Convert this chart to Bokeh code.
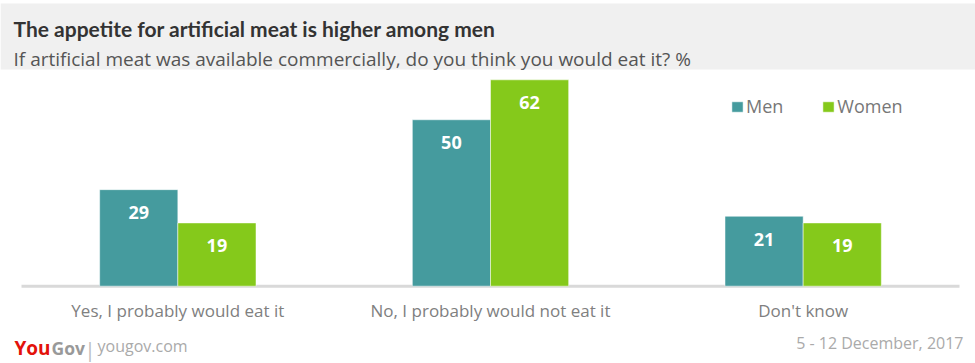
from bokeh.plotting import figure
from bokeh.models import (ColumnDataSource, Range1d, Label, BoxAnnotation,
                          Legend, LegendItem, LabelSet, FixedTicker)
from bokeh.layouts import column
from bokeh.embed import file_html
from bokeh.resources import INLINE
from bokeh.core.properties import value

# ---- data ----
categories = ["Yes, I probably would eat it", "No, I probably would not eat it", "Don't know"]
men = [29, 50, 21]
women = [19, 62, 19]
series_names = ["Men", "Women"]

title_text = "The appetite for artificial meat is higher among men"
subtitle_text = "If artificial meat was available commercially, do you think you would eat it? %"
date_text = "5 - 12 December, 2017"

MEN_COLOR = "#459b9e"
WOMEN_COLOR = "#85c91b"
FONT = "Open Sans"
W = 975
BAR_W = 0.25


def blank(height, y0, y1):
    f = figure(width=W, height=height, x_range=Range1d(0, W), y_range=Range1d(y0, y1),
               x_axis_type=None, y_axis_type=None, output_backend="svg",
               toolbar_location=None, min_border=0)
    f.outline_line_color = None
    f.background_fill_color = "white"
    f.border_fill_color = "white"
    return f


def lab(f, text, x, y, size, color, style="normal", align="left", font=FONT):
    f.add_layout(Label(x=x, y=y, text=text, text_font=font, text_font_size=size,
                       text_color=color, text_font_style=style, text_align=align,
                       text_baseline="alphabetic"))


# ---- header ----
head = blank(72, 72, 0)
head.add_layout(BoxAnnotation(left=0, right=W, top=3, bottom=69, fill_color="#f0f0f0",
                              fill_alpha=1.0, line_color=None))
lab(head, title_text, 13, 28, "21px", "#333333", style="bold", font="Lato")
lab(head, subtitle_text, 13, 58, "19px", "#555555")

# ---- main chart ----
n = len(categories)
centers = [i + 0.5 for i in range(n)]
src = ColumnDataSource(data=dict(
    xm=[c - BAR_W / 2 for c in centers], xw=[c + BAR_W / 2 for c in centers],
    men=men, women=women,
    men_lbl=[str(v) for v in men], women_lbl=[str(v) for v in women]))

# 938 px of plotting width for the 3 categories, starting 21 px from the left edge
px_per_cat = 938 / n
p = figure(width=W, height=254,
           x_range=Range1d(-21 / px_per_cat, n + 16 / px_per_cat),
           y_range=Range1d(-1.0, 64.2), y_axis_type=None,
           output_backend="svg", toolbar_location=None,
           min_border_left=0, min_border_right=0, min_border_top=0, min_border_bottom=37)
p.outline_line_color = None
p.xgrid.visible = False
p.background_fill_color = "white"
p.border_fill_color = "white"

# baseline
p.segment(x0=0, x1=n, y0=0, y1=0, line_color="#d9d9d9", line_width=3)

r_men = p.vbar(x="xm", top="men", bottom=0, width=BAR_W, source=src,
               fill_color=MEN_COLOR, line_color="white", line_width=0.5)
r_women = p.vbar(x="xw", top="women", bottom=0, width=BAR_W, source=src,
                 fill_color=WOMEN_COLOR, line_color="white", line_width=0.5)

for xcol, col, lbl in (("xm", "men", "men_lbl"), ("xw", "women", "women_lbl")):
    p.add_layout(LabelSet(x=xcol, y=col, text=lbl, source=src,
                          text_align="center", text_baseline="middle", y_offset=-23,
                          text_color="white", text_font=value(FONT), text_font_style="bold",
                          text_font_size="18px"))

ax = p.xaxis[0]
ax.ticker = FixedTicker(ticks=centers)
ax.major_label_overrides = {c: cat for c, cat in zip(centers, categories)}
ax.axis_line_color = None
ax.major_tick_line_color = None
ax.minor_tick_line_color = None
ax.major_tick_out = 0
ax.major_tick_in = 0
ax.major_label_standoff = 9
ax.major_label_text_font = FONT
ax.major_label_text_font_size = "17px"
ax.major_label_text_color = "#808080"

legend = Legend(items=[LegendItem(label=series_names[0], renderers=[r_men]),
                       LegendItem(label=series_names[1], renderers=[r_women])],
                orientation="horizontal", location=(730, 171),
                glyph_width=14, glyph_height=13, label_standoff=2, spacing=38,
                padding=0, margin=0, border_line_color=None, background_fill_alpha=0,
                label_text_font=FONT, label_text_font_size="18px",
                label_text_color="#777777")
p.add_layout(legend, "center")

# ---- footer ----
foot = blank(37, 363, 326)
lab(foot, "You", 14, 347, "19px", "#e3120b", style="bold")
lab(foot, "Gov", 51, 347, "17.5px", "#999999", style="bold")
lab(foot, "|", 84, 349, "20px", "#bbbbbb")
lab(foot, "yougov.com", 97, 345, "16px", "#aaaaaa")
lab(foot, date_text, 963, 342, "16px", "#aaaaaa", align="right")

layout = column(head, p, foot, spacing=0)
open("out.html", "w").write(file_html(layout, INLINE))
